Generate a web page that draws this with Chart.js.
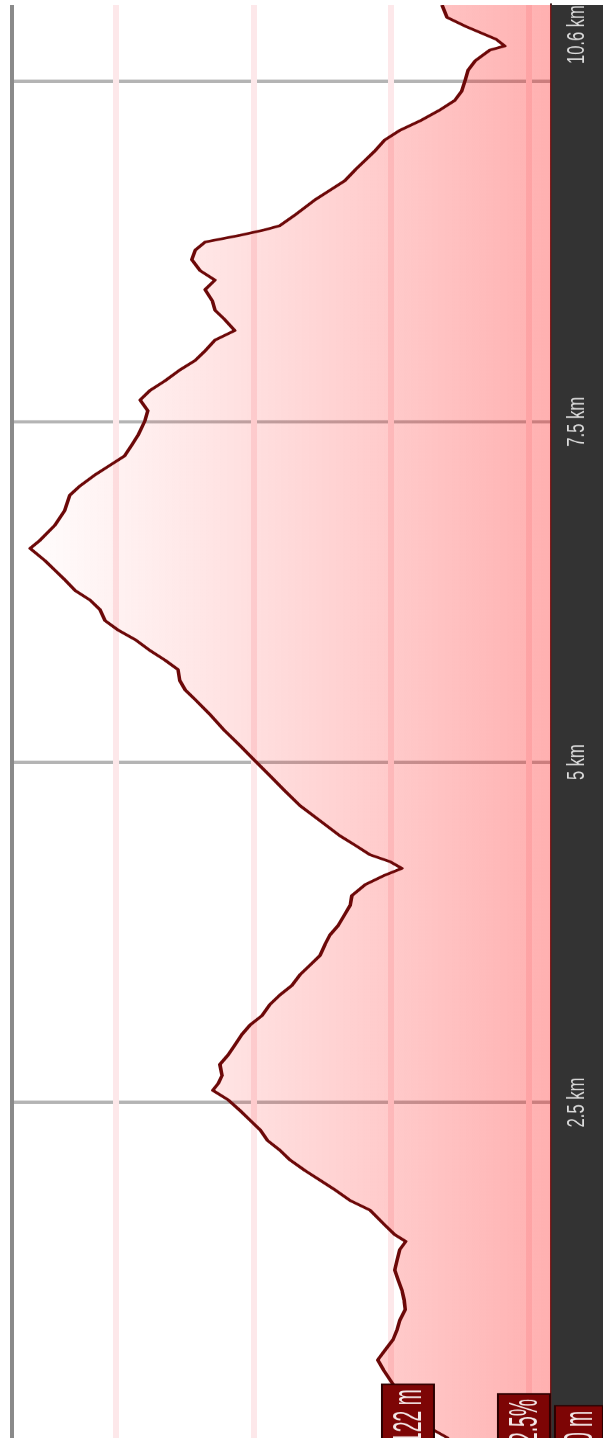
<!DOCTYPE html>
<html>
<head>
<meta charset="utf-8">
<script src="https://cdn.jsdelivr.net/npm/chart.js@4"></script>
<style>
  html, body { margin: 0; padding: 0; background: #fff; }
  body { width: 603px; height: 1438px; overflow: hidden; position: relative; }
  /* the profile is drawn lying down and then turned to stand up */
  #perfil {
    position: absolute; left: 0; top: 0;
    width: 2011px; height: 603px;
    transform-origin: 0 0;
    transform: translate(0, 1448px) rotate(-90deg) scaleX(0.72);
  }
</style>
</head>
<body>
<div id="perfil"><canvas id="grafico" width="2011" height="603"></canvas></div>
<script>

// distance along the track (km)
const DIST_KM = [
    0, 0.04, 0.13, 0.24, 0.35, 0.43, 0.54, 0.61, 0.68, 0.76, 0.83, 0.90, 0.98,
    1.05, 1.12, 1.20, 1.27, 1.34, 1.42, 1.48, 1.53, 1.60, 1.71, 1.78, 1.86, 1.93,
    2.00, 2.08, 2.15, 2.22, 2.30, 2.37, 2.44, 2.52, 2.59, 2.64, 2.70, 2.78, 2.85,
    2.92, 3.00, 3.07, 3.14, 3.22, 3.29, 3.36, 3.44, 3.51, 3.58, 3.66, 3.73, 3.80,
    3.88, 3.95, 4.02, 4.10, 4.17, 4.22, 4.27, 4.32, 4.39, 4.46, 4.57, 4.68, 4.79,
    4.90, 5.01, 5.12, 5.23, 5.35, 5.46, 5.53, 5.60, 5.68, 5.75, 5.82, 5.90, 5.97,
    6.04, 6.12, 6.19, 6.26, 6.34, 6.41, 6.48, 6.57, 6.63, 6.74, 6.85, 6.96, 7.03,
    7.11, 7.18, 7.25, 7.33, 7.40, 7.51, 7.58, 7.66, 7.73, 7.80, 7.88, 7.95, 8.02,
    8.10, 8.17, 8.25, 8.32, 8.39, 8.47, 8.54, 8.61, 8.69, 8.76, 8.82, 8.87, 8.91,
    8.94, 9.02, 9.13, 9.20, 9.27, 9.35, 9.42, 9.49, 9.57, 9.64, 9.71, 9.79, 9.86,
    9.93, 10.01, 10.08, 10.15, 10.23, 10.26, 10.31, 10.40, 10.47, 10.56
];

// elevation (m)
const ELEV_M = [
    114.0, 114.9, 118.9, 122.5, 124.4, 124.7, 126.5, 127.5, 126.2, 124.7, 124.0, 123.5, 122.5,
    122.7, 123.1, 123.8, 124.4, 124.0, 123.5, 122.4, 124.4, 126.2, 128.9, 132.5, 135.3, 138.0,
    140.7, 143.5, 145.3, 147.5, 148.9, 150.7, 152.5, 154.7, 157.5, 156.5, 155.8, 156.2, 154.7,
    153.5, 152.2, 150.7, 148.5, 147.1, 145.3, 143.1, 141.6, 139.8, 138.0, 137.1, 136.2, 134.7,
    133.5, 132.5, 132.2, 129.8, 126.2, 123.1, 125.3, 128.9, 131.6, 134.4, 138.0, 141.6, 144.4,
    147.1, 149.8, 152.5, 155.3, 158.0, 160.7, 162.5, 163.5, 163.8, 166.2, 168.9, 171.6, 174.7,
    177.1, 178.0, 179.8, 182.5, 184.4, 186.2, 188.0, 190.7, 188.9, 186.2, 184.4, 183.5, 181.6,
    178.9, 176.2, 173.5, 172.2, 171.1, 169.8, 169.3, 170.7, 168.9, 166.2, 163.5, 160.7, 158.9,
    157.1, 153.5, 155.3, 157.1, 157.6, 158.9, 157.1, 159.8, 161.3, 160.7, 158.9, 152.5, 148.0,
    145.3, 142.5, 138.9, 136.2, 133.5, 131.6, 129.8, 128.0, 126.2, 123.5, 119.8, 116.2, 113.5,
    112.2, 111.6, 111.1, 109.8, 107.1, 104.4, 106.0, 111.3, 114.9, 115.8
];

// ticks of both axes
const DIST_TICKS = [0, 2.5, 5, 7.5, 10, 10.56];
const DIST_TOTAL_LABEL = '10.6 km';
const ELEV_TICKS = [96, 100, 125, 150, 175, 194];

// cursor tags at the start of the track
const START_ELEV = 122;
const TAG_TEXT = ['122 m', '2.5%', '0 m'];
const TAG_SQUEEZE = 0.67;


//***********************
// dark band under the distance axis
//***********************
const faixaEixo = {
    id: 'faixaEixo',
    beforeDraw(chart){
        const {ctx, chartArea} = chart;
        ctx.save();
        ctx.fillStyle = '#333333';
        ctx.fillRect(0, chartArea.bottom, chartArea.right, chart.height - chartArea.bottom);
        ctx.restore();
    }
};


function desenharEtiqueta(ctx, texto, x, cy, h){
    const w = ctx.measureText(texto).width * TAG_SQUEEZE + 14;
    ctx.fillStyle = '#7d0505';
    ctx.strokeStyle = '#2b0000';
    ctx.lineWidth = 2;
    ctx.fillRect(x, cy - h / 2, w, h);
    ctx.strokeRect(x, cy - h / 2, w, h);

    ctx.save();
    ctx.translate(x + w - 7, cy);
    ctx.scale(TAG_SQUEEZE, 1);
    ctx.fillStyle = '#f4e8e8';
    ctx.textAlign = 'right';
    ctx.textBaseline = 'middle';
    ctx.fillText(texto, 0, 2);
    ctx.restore();
}

//***********************
// tags of the cursor (elevation, grade, distance)
//***********************
const etiquetas = {
    id: 'etiquetas',
    afterDraw(chart){
        const {ctx, chartArea, scales} = chart;
        const x0 = scales.x.getPixelForValue(0) - 7;
        ctx.save();
        ctx.font = '40px "Liberation Sans", Arial, sans-serif';
        desenharEtiqueta(ctx, TAG_TEXT[0], x0, scales.y.getPixelForValue(START_ELEV), 52);
        desenharEtiqueta(ctx, TAG_TEXT[1], x0, chartArea.bottom - 27, 52);
        desenharEtiqueta(ctx, TAG_TEXT[2], x0, chartArea.bottom + 28, 48);
        ctx.restore();
    }
};


const pontos = DIST_KM.map((d, i) => ({x: d, y: ELEV_M[i]}));

new Chart(document.getElementById('grafico'), {
    type: 'line',
    data: {
        datasets: [{
            data: pontos,
            borderColor: '#6c0808',
            borderWidth: 3.6,
            borderJoinStyle: 'round',
            pointRadius: 0,
            tension: 0,
            fill: 'start',
            backgroundColor: (ctx) => {
                const area = ctx.chart.chartArea;
                if (!area) return 'rgba(255,0,0,0.2)';
                const g = ctx.chart.ctx.createLinearGradient(0, area.top, 0, area.bottom);
                g.addColorStop(0, 'rgba(255,40,40,0)');
                g.addColorStop(1, 'rgba(255,0,0,0.31)');
                return g;
            }
        }]
    },
    options: {
        responsive: false,
        animation: false,
        events: [],
        layout: {padding: {top: 12, left: 7, right: 7, bottom: 12.6}},
        plugins: {legend: {display: false}, tooltip: {enabled: false}},
        scales: {
            x: {
                type: 'linear',
                position: 'bottom',
                min: 0,
                max: DIST_TICKS[DIST_TICKS.length - 1],
                afterBuildTicks: (scale) => { scale.ticks = DIST_TICKS.map(v => ({value: v})); },
                grid: {
                    color: (c) => (c.tick && (c.tick.value === 0 || c.tick.value === DIST_TICKS[DIST_TICKS.length - 1])) ? 'rgba(0,0,0,0)' : '#b4b4b4',
                    lineWidth: 4.5,
                    drawTicks: true,
                    tickLength: 13,
                    tickColor: 'rgba(0,0,0,0)'
                },
                border: {display: true, color: '#4a2626', width: 2},
                ticks: {
                    autoSkip: false,
                    maxRotation: 0,
                    align: 'inner',
                    padding: 0,
                    color: '#dcdcdc',
                    font: {family: '"Liberation Sans", Arial, sans-serif', size: 23, lineHeight: 1.15},
                    callback: (v) => {
                        if (v === DIST_TICKS[DIST_TICKS.length - 1]) return DIST_TOTAL_LABEL;
                        if (v === 0 || v === 10) return '';
                        return v + ' km';
                    }
                }
            },
            y: {
                type: 'linear',
                min: ELEV_TICKS[0],
                max: ELEV_TICKS[ELEV_TICKS.length - 1],
                afterBuildTicks: (scale) => { scale.ticks = ELEV_TICKS.map(v => ({value: v})); },
                grid: {
                    color: (c) => {
                        if (!c.tick) return '#fde8ea';
                        if (c.tick.value === ELEV_TICKS[ELEV_TICKS.length - 1]) return '#8a8a8a';
                        if (c.tick.value === ELEV_TICKS[0]) return 'rgba(0,0,0,0)';
                        return '#fde8ea';
                    },
                    lineWidth: (c) => (c.tick && c.tick.value === ELEV_TICKS[ELEV_TICKS.length - 1]) ? 4 : 6,
                    drawTicks: false
                },
                border: {display: false},
                ticks: {display: false}
            }
        }
    },
    plugins: [faixaEixo, etiquetas]
});
</script>
</body>
</html>
